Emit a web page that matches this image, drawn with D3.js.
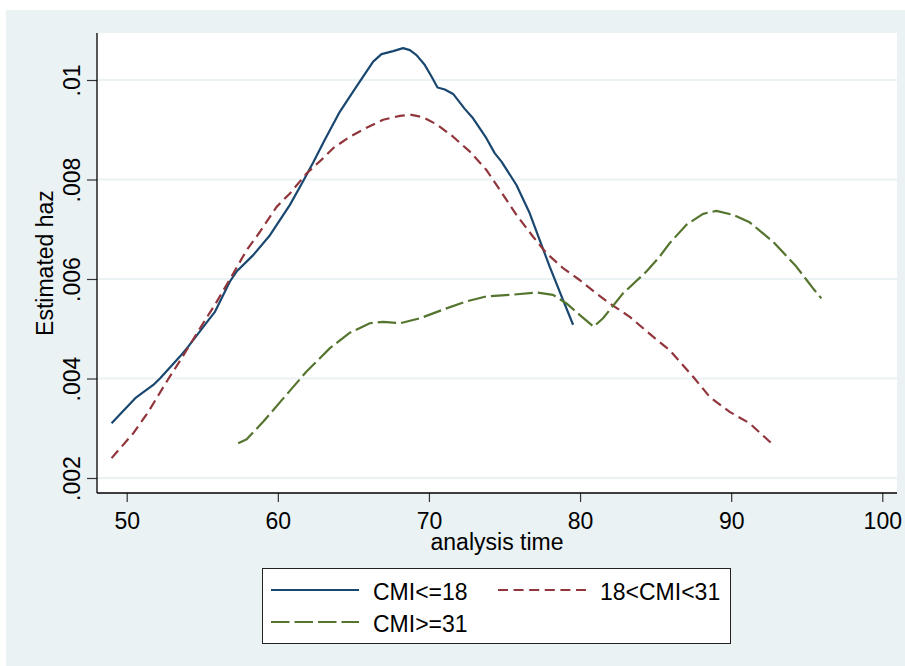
<!DOCTYPE html>
<html>
<head>
<meta charset="utf-8">
<script src="https://cdn.jsdelivr.net/npm/d3@7"></script>
<style>
  body { margin: 0; background: #fff; }
  text { font-family: "Liberation Sans", Arial, sans-serif; fill: #000; }
</style>
</head>
<body>
<div id="chart"></div>
<script>
// values
const xTicks = [50, 60, 70, 80, 90, 100];
const yTicks = [0.002, 0.004, 0.006, 0.008, 0.01];
const yTickLabels = [".002", ".004", ".006", ".008", ".01"];
const seriesNames = ["CMI<=18", "18<CMI<31", "CMI>=31"];

const lowTime = [49.0, 50.55, 50.99, 51.76, 52.2, 53.52, 54.07, 55.5, 55.84, 56.83, 57.27, 58.37, 59.48, 60.8, 61.68, 62.34, 63.11, 64.1, 65.21, 66.31, 66.86, 67.63, 68.29, 68.74, 69.18, 69.73, 70.17, 70.57, 71.05, 71.6, 72.37, 72.92, 73.8, 74.35, 74.8, 75.79, 76.67, 77.33, 77.99, 78.87, 79.54];
const lowHaz = [0.0031, 0.0036, 0.0037, 0.00387, 0.0040, 0.00444, 0.00464, 0.00521, 0.00534, 0.00595, 0.00615, 0.00648, 0.00688, 0.00749, 0.00797, 0.00834, 0.0088, 0.00936, 0.00987, 0.01037, 0.01052, 0.01058, 0.01064, 0.0106, 0.0105, 0.0103, 0.01007, 0.00985, 0.00981, 0.00972, 0.00942, 0.00923, 0.00883, 0.00853, 0.00836, 0.00789, 0.00732, 0.00678, 0.00625, 0.00558, 0.00508];

const midTime = [49.0, 50.44, 51.43, 52.65, 53.64, 54.85, 55.95, 57.05, 57.94, 58.82, 59.92, 60.8, 61.9, 62.9, 63.66, 64.77, 65.87, 66.97, 68.08, 68.85, 69.62, 70.5, 71.6, 72.71, 73.81, 74.69, 75.79, 76.89, 77.77, 78.87, 79.97, 81.08, 81.96, 83.29, 84.83, 85.93, 87.47, 88.58, 89.9, 91.22, 92.66];
const midHaz = [0.0024, 0.0029, 0.00333, 0.00394, 0.00441, 0.00501, 0.00554, 0.00611, 0.00658, 0.00695, 0.00745, 0.00772, 0.00812, 0.0084, 0.00863, 0.00886, 0.00904, 0.0092, 0.00928, 0.0093, 0.00925, 0.00911, 0.00886, 0.00856, 0.00819, 0.00779, 0.00729, 0.00685, 0.00652, 0.00622, 0.00598, 0.00571, 0.00551, 0.00524, 0.00484, 0.00457, 0.00404, 0.00363, 0.00333, 0.0031, 0.0027];

const highTime = [57.38, 57.94, 59.03, 60.36, 61.9, 63.45, 64.77, 66.09, 66.97, 68.08, 69.4, 71.16, 72.49, 73.81, 75.35, 77.12, 78.21, 79.1, 79.97, 80.9, 81.52, 82.84, 84.39, 85.27, 85.93, 87.04, 88.14, 89.02, 90.12, 91.22, 92.77, 94.31, 95.42, 95.97];
const highHaz = [0.0027, 0.00278, 0.00313, 0.0036, 0.00414, 0.00461, 0.00492, 0.00511, 0.00514, 0.00511, 0.00521, 0.00541, 0.00555, 0.00565, 0.00568, 0.00573, 0.00568, 0.00551, 0.00528, 0.00504, 0.00521, 0.00571, 0.00615, 0.00645, 0.00672, 0.00709, 0.00731, 0.00737, 0.00729, 0.00714, 0.00675, 0.00625, 0.00581, 0.00561];

const W = 905, H = 666;
const plot = {left: 97, top: 33, right: 897, bottom: 493};
const colors = ["#1a476f", "#90353b", "#55752f"];
const dashes = [null, "10,5.6", "18.5,5"];
const bg = "#eaf2f3";

const svg = d3.select("#chart").append("svg")
    .attr("width", W)
    .attr("height", H);

svg.append("rect")
    .attr("x", 6).attr("y", 10)
    .attr("width", W - 6).attr("height", H - 10)
    .attr("fill", bg);

svg.append("rect")
    .attr("x", plot.left).attr("y", plot.top)
    .attr("width", plot.right - plot.left)
    .attr("height", plot.bottom - plot.top)
    .attr("fill", "#fff");

const x = d3.scaleLinear().domain([50, 100]).range([126.7, 882.3]);
const y = d3.scaleLinear().domain([0.002, 0.01]).range([478, 80]);

// grid lines
svg.append("g")
    .selectAll("line")
    .data(yTicks)
    .join("line")
    .attr("x1", plot.left).attr("x2", plot.right)
    .attr("y1", d => y(d)).attr("y2", d => y(d))
    .attr("stroke", bg)
    .attr("stroke-width", 2);

// x axis
const xAxis = svg.append("g")
    .attr("transform", "translate(0," + plot.bottom + ")")
    .call(d3.axisBottom(x).tickValues(xTicks).tickSize(9).tickFormat(d3.format("d")));
xAxis.select(".domain").remove();
xAxis.selectAll(".tick line").attr("stroke", "#333").attr("stroke-width", 1.2);
xAxis.selectAll(".tick text")
    .attr("y", 36).attr("dy", null)
    .style("font-size", "23px")
    .attr("font-family", null);

// y axis
const yAxis = svg.append("g")
    .attr("transform", "translate(" + plot.left + ",0)")
    .call(d3.axisLeft(y).tickValues(yTicks).tickSize(10).tickFormat((d, i) => yTickLabels[i]));
yAxis.select(".domain").remove();
yAxis.selectAll(".tick line").attr("stroke", "#333").attr("stroke-width", 1.2);
yAxis.selectAll(".tick text")
    .attr("x", null).attr("dy", null)
    .attr("transform", "translate(-17,0) rotate(-90)")
    .attr("text-anchor", "middle")
    .style("font-size", "23px")
    .attr("font-family", null);

svg.append("line")
    .attr("x1", plot.left).attr("x2", plot.left)
    .attr("y1", plot.top).attr("y2", plot.bottom)
    .attr("stroke", "#000").attr("stroke-width", 1.3);
svg.append("line")
    .attr("x1", plot.left).attr("x2", plot.right)
    .attr("y1", plot.bottom).attr("y2", plot.bottom)
    .attr("stroke", "#000").attr("stroke-width", 1.3);

// axis titles
svg.append("text")
    .attr("x", (plot.left + plot.right) / 2)
    .attr("y", 550)
    .attr("text-anchor", "middle")
    .style("font-size", "23px")
    .text("analysis time");

svg.append("text")
    .attr("transform", "translate(53," + (plot.top + plot.bottom) / 2 + ") rotate(-90)")
    .attr("text-anchor", "middle")
    .style("font-size", "23px")
    .text("Estimated haz");

// curves
const series = [
    {time: lowTime, haz: lowHaz},
    {time: midTime, haz: midHaz},
    {time: highTime, haz: highHaz}
];
const line = d3.line()
    .x(d => x(d[0]))
    .y(d => y(d[1]));

series.forEach((s, i) => {
    svg.append("path")
        .datum(d3.zip(s.time, s.haz))
        .attr("fill", "none")
        .attr("stroke", colors[i])
        .attr("stroke-width", 2.2)
        .attr("stroke-dasharray", dashes[i])
        .attr("stroke-linejoin", "round")
        .attr("d", line);
});

// legend
const legend = svg.append("g");
legend.append("rect")
    .attr("x", 262.5).attr("y", 568.5)
    .attr("width", 468).attr("height", 75)
    .attr("fill", "#fff")
    .attr("stroke", "#222")
    .attr("stroke-width", 1);

const legendPos = [
    {x: 271, y: 590},
    {x: 498, y: 590},
    {x: 271, y: 622}
];
legendPos.forEach((p, i) => {
    legend.append("line")
        .attr("x1", p.x).attr("x2", p.x + 88)
        .attr("y1", p.y).attr("y2", p.y)
        .attr("stroke", colors[i])
        .attr("stroke-width", 2.2)
        .attr("stroke-dasharray", dashes[i]);
    legend.append("text")
        .attr("x", p.x + 102)
        .attr("y", p.y + 10)
        .style("font-size", "23px")
        .text(seriesNames[i]);
});
</script>
</body>
</html>
